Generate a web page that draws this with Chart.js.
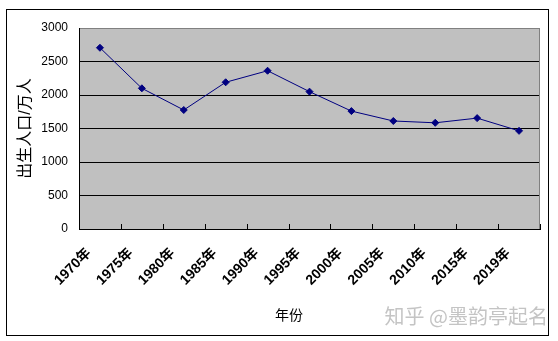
<!DOCTYPE html>
<html>
<head>
<meta charset="utf-8">
<script src="https://cdn.jsdelivr.net/npm/chart.js@4/dist/chart.umd.min.js"></script>
<style>
  html, body { margin: 0; padding: 0; background: #ffffff; }
  #wrap { position: relative; width: 558px; height: 341px; }
  canvas { display: block; }
</style>
</head>
<body>
<div id="wrap"><canvas id="c" width="558" height="341"></canvas></div>
<script>
const categories = ['1970年','1975年','1980年','1985年','1990年','1995年','2000年','2005年','2010年','2015年','2019年'];
const births = [2705, 2100, 1776, 2190, 2362, 2050, 1760, 1612, 1585, 1655, 1465];
const yTicks = [0, 500, 1000, 1500, 2000, 2500, 3000];
const yTitle = '出生人口/万人';
const xTitle = '年份';
const watermark = '知乎 @墨韵亭起名';

const CJK = '"Liberation Sans", "Noto Sans CJK SC", sans-serif';

const decor = {
  id: 'decor',
  beforeDraw(chart) {
    const { ctx, chartArea: a } = chart;
    ctx.save();
    ctx.fillStyle = '#ffffff';
    ctx.fillRect(0, 0, chart.width, chart.height);
    ctx.strokeStyle = '#000000';
    ctx.lineWidth = 1;
    ctx.strokeRect(6.5, 9.5, 542, 326);
    ctx.fillStyle = '#c0c0c0';
    ctx.fillRect(a.left, a.top, a.right - a.left, a.bottom - a.top);
    ctx.restore();
  },
  afterDatasetsDraw(chart) {
    const { ctx, chartArea: a, scales } = chart;
    ctx.save();
    ctx.strokeStyle = '#808080';
    ctx.lineWidth = 1;
    ctx.beginPath();
    ctx.moveTo(Math.round(a.right) - 0.5, a.top);
    ctx.lineTo(Math.round(a.right) - 0.5, a.bottom);
    ctx.stroke();
    const xs = scales.x;
    const n = categories.length;
    ctx.strokeStyle = '#000000';
    ctx.beginPath();
    for (let i = 1; i <= n; i++) {
      const bx = i < n ? Math.round((xs.getPixelForValue(i - 1) + xs.getPixelForValue(i)) / 2) : Math.round(a.right);
      ctx.moveTo(bx + 0.5, a.bottom);
      ctx.lineTo(bx + 0.5, a.bottom - 5);
    }
    ctx.stroke();
    ctx.fillStyle = '#000000';
    ctx.font = '14px "Noto Sans CJK SC", sans-serif';
    ctx.textAlign = 'center';
    ctx.textBaseline = 'middle';
    ctx.fillText(xTitle, 289, 315);
    ctx.fillStyle = '#c4c4c4';
    ctx.font = '20px "Noto Sans CJK SC", sans-serif';
    ctx.textAlign = 'right';
    ctx.textBaseline = 'middle';
    ctx.fillText(watermark, 548, 316);
    ctx.restore();
  }
};

new Chart(document.getElementById('c'), {
  type: 'line',
  data: {
    labels: categories,
    datasets: [{
      data: births,
      borderColor: '#000080',
      backgroundColor: '#000080',
      borderWidth: 1,
      pointStyle: 'rectRot',
      pointRadius: 3.5,
      pointBorderWidth: 1,
      tension: 0,
      fill: false
    }]
  },
  options: {
    responsive: false,
    animation: false,
    devicePixelRatio: 1,
    layout: { padding: { left: 0, top: 28, right: 18, bottom: 0 } },
    plugins: { legend: { display: false }, tooltip: { enabled: false } },
    scales: {
      x: {
        type: 'category',
        offset: true,
        grid: { display: false, drawTicks: false },
        border: { display: true, color: '#000000', width: 1 },
        ticks: {
          autoSkip: false,
          minRotation: 45,
          maxRotation: 45,
          padding: 16,
          labelOffset: -11,
          color: '#000000',
          font: { family: CJK, size: 14, weight: 'bold' }
        },
        title: { display: false },
        afterFit(scale) { scale.height = 112; }
      },
      y: {
        min: 0,
        max: 3000,
        afterBuildTicks(scale) { scale.ticks = yTicks.map(v => ({ value: v })); },
        grid: {
          drawTicks: false,
          color: ctx => (ctx.tick && ctx.tick.value === 3000) ? '#808080' : '#000000',
          lineWidth: 1
        },
        border: { display: true, color: '#000000', width: 1 },
        ticks: {
          padding: 11,
          color: '#000000',
          font: { family: CJK, size: 12 },
          callback: v => String(v)
        },
        title: {
          display: true,
          text: yTitle,
          color: '#000000',
          font: { family: CJK, size: 16 },
          padding: { top: 16, bottom: 0 }
        },
        afterFit(scale) { scale.width = 79; }
      }
    }
  },
  plugins: [decor]
});
</script>
</body>
</html>
